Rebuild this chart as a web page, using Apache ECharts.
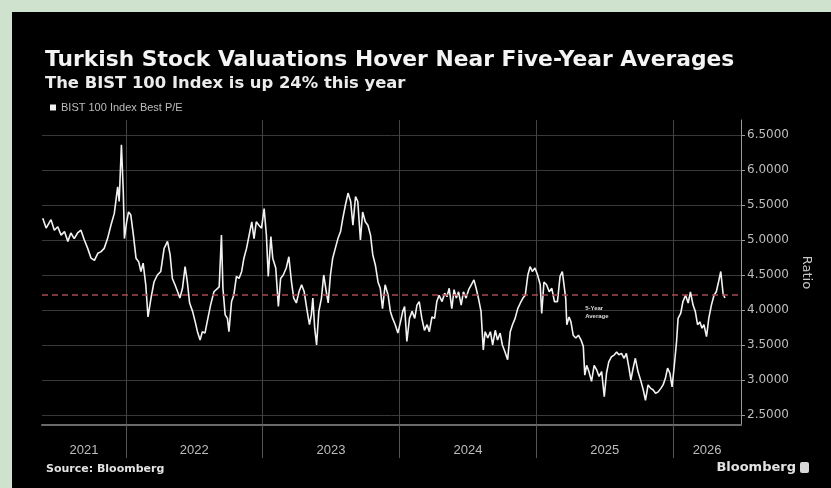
<!DOCTYPE html>
<html>
<head>
<meta charset="utf-8">
<script src="https://cdn.jsdelivr.net/npm/echarts@6/dist/echarts.min.js"></script>
<style>
  html, body { margin: 0; padding: 0; width: 831px; height: 488px; overflow: hidden; background: #cfe2cd; }
  #chart { position: absolute; left: 12px; top: 12px; width: 819px; height: 476px; background: #000; }
</style>
</head>
<body>
<div id="chart"></div>
<script>
// BIST 100 Index best P/E ratio, roughly weekly readings
const dates = [
  '2021-05-24','2021-06-02','2021-06-15','2021-06-24','2021-07-03','2021-07-12','2021-07-21','2021-07-30',
  '2021-08-07','2021-08-16','2021-08-25','2021-09-03','2021-09-12','2021-09-21','2021-09-30','2021-10-09',
  '2021-10-18','2021-10-26','2021-11-04','2021-11-13','2021-11-22','2021-12-01','2021-12-10','2021-12-14',
  '2021-12-20','2021-12-25','2021-12-28',
  '2022-01-03','2022-01-08','2022-01-14','2022-01-21','2022-01-28','2022-02-04','2022-02-10','2022-02-16',
  '2022-02-23','2022-03-01','2022-03-09','2022-03-17','2022-03-26','2022-04-04','2022-04-13','2022-04-22',
  '2022-04-29','2022-05-05','2022-05-12','2022-05-19','2022-05-25','2022-06-01','2022-06-08','2022-06-14',
  '2022-06-20','2022-06-28','2022-07-05','2022-07-11','2022-07-18','2022-07-24','2022-07-31','2022-08-07',
  '2022-08-15','2022-08-24','2022-09-07','2022-09-13','2022-09-17','2022-09-23','2022-09-29','2022-10-03',
  '2022-10-10','2022-10-16','2022-10-23','2022-10-30','2022-11-06','2022-11-12','2022-11-19','2022-11-26',
  '2022-12-03','2022-12-09','2022-12-15','2022-12-22','2022-12-29',
  '2023-01-05','2023-01-11','2023-01-16','2023-01-23','2023-01-28','2023-02-05','2023-02-12','2023-02-18',
  '2023-02-25','2023-03-05','2023-03-12','2023-03-19','2023-03-25','2023-04-01','2023-04-08','2023-04-15',
  '2023-04-22','2023-04-30','2023-05-06','2023-05-11','2023-05-15','2023-05-20','2023-05-25','2023-05-31',
  '2023-06-07','2023-06-13','2023-06-20','2023-06-25','2023-07-01','2023-07-07','2023-07-14','2023-07-21',
  '2023-07-28','2023-08-03','2023-08-10','2023-08-17','2023-08-24','2023-08-30','2023-09-06','2023-09-12',
  '2023-09-19','2023-09-25','2023-10-02','2023-10-09','2023-10-16','2023-10-22','2023-10-29','2023-11-05',
  '2023-11-11','2023-11-17','2023-11-24','2023-12-02','2023-12-08','2023-12-14','2023-12-21','2023-12-28',
  '2024-01-04','2024-01-10','2024-01-15','2024-01-21','2024-01-28','2024-02-04','2024-02-11','2024-02-17',
  '2024-02-23','2024-03-01','2024-03-08','2024-03-15','2024-03-21','2024-03-28','2024-04-04','2024-04-10',
  '2024-04-16','2024-04-24','2024-05-01','2024-05-07','2024-05-13','2024-05-20','2024-05-26','2024-06-01',
  '2024-06-07','2024-06-14','2024-06-20','2024-06-27','2024-07-04','2024-07-11','2024-07-18','2024-07-24',
  '2024-07-30','2024-08-06','2024-08-12','2024-08-17','2024-08-24','2024-08-31','2024-09-06','2024-09-13',
  '2024-09-19','2024-09-26','2024-10-02','2024-10-09','2024-10-16','2024-10-23','2024-10-29','2024-11-05',
  '2024-11-12','2024-11-19','2024-11-26','2024-12-02','2024-12-09','2024-12-15','2024-12-21','2024-12-28',
  '2025-01-04','2025-01-11','2025-01-15','2025-01-21','2025-01-28','2025-02-04','2025-02-11','2025-02-18',
  '2025-02-26','2025-03-05','2025-03-11','2025-03-16','2025-03-20','2025-03-23','2025-03-29','2025-04-03',
  '2025-04-09','2025-04-16','2025-04-23','2025-04-30','2025-05-06','2025-05-10','2025-05-15','2025-05-21',
  '2025-05-28','2025-06-04','2025-06-11','2025-06-17','2025-06-24','2025-07-01','2025-07-07','2025-07-13',
  '2025-07-20','2025-07-28','2025-08-03','2025-08-09','2025-08-16','2025-08-23','2025-08-29','2025-09-05',
  '2025-09-10','2025-09-16','2025-09-22','2025-09-29','2025-10-07','2025-10-13','2025-10-19','2025-10-26',
  '2025-11-02','2025-11-08','2025-11-15','2025-11-22','2025-11-29','2025-12-05','2025-12-11','2025-12-17',
  '2025-12-23','2025-12-29',
  '2026-01-04','2026-01-10','2026-01-14','2026-01-21','2026-01-27','2026-02-03','2026-02-10','2026-02-16',
  '2026-02-23','2026-03-01','2026-03-07','2026-03-13','2026-03-19','2026-03-24','2026-03-31','2026-04-06',
  '2026-04-13','2026-04-20','2026-04-26','2026-05-02','2026-05-08','2026-05-14','2026-05-19'
];

const peRatio = [
  5.31,5.17,5.29,5.14,5.19,5.07,5.12,4.98,
  5.10,5.02,5.10,5.14,5.00,4.88,4.74,4.71,
  4.81,4.83,4.88,5.02,5.21,5.38,5.76,5.55,
  6.36,5.69,5.02,
  5.26,5.40,5.36,5.07,4.74,4.69,4.55,4.67,
  4.36,3.90,4.17,4.40,4.50,4.55,4.88,4.98,
  4.79,4.45,4.36,4.26,4.17,4.31,4.62,4.40,
  4.10,3.98,3.83,3.69,3.57,3.69,3.67,3.86,
  4.07,4.26,4.33,5.07,4.31,3.93,3.88,3.69,
  4.12,4.21,4.48,4.45,4.55,4.74,4.88,5.07,
  5.26,5.02,5.26,5.21,5.17,
  5.45,5.07,4.48,5.05,4.74,4.60,4.05,4.45,
  4.50,4.60,4.76,4.40,4.17,4.10,4.26,4.36,
  4.26,3.98,3.79,3.93,4.17,3.74,3.50,3.98,
  4.17,4.50,4.26,4.10,4.50,4.74,4.88,5.02,
  5.12,5.31,5.50,5.67,5.55,5.21,5.62,5.55,
  5.00,5.40,5.26,5.21,5.07,4.79,4.64,4.40,
  4.31,4.02,4.36,4.21,3.98,3.88,3.79,3.67,
  3.83,3.98,4.05,3.55,3.88,3.98,3.88,4.07,
  4.12,3.88,3.71,3.79,3.69,3.90,3.88,4.12,
  4.21,4.12,4.24,4.19,4.31,4.02,4.29,4.17,
  4.26,4.07,4.26,4.17,4.29,4.36,4.43,4.31,
  4.17,3.98,3.43,3.69,3.60,3.69,3.50,3.71,
  3.57,3.67,3.50,3.40,3.29,3.69,3.79,3.88,
  4.02,4.10,4.17,4.21,4.50,4.62,4.55,4.60,
  4.50,4.36,3.95,4.40,4.36,4.26,4.31,4.12,
  4.12,4.48,4.55,4.57,4.17,3.79,3.90,3.83,
  3.64,3.60,3.64,3.57,3.48,3.07,3.21,3.12,
  2.98,3.21,3.14,3.05,3.12,2.76,3.10,3.26,
  3.33,3.36,3.40,3.36,3.38,3.31,3.38,3.17,
  3.00,3.17,3.31,3.12,2.98,2.86,2.71,2.93,
  2.88,2.86,2.81,2.83,2.88,2.93,3.02,3.17,
  3.10,2.90,
  3.21,3.55,3.88,3.95,4.12,4.21,4.10,4.26,
  4.07,3.98,3.79,3.83,3.74,3.79,3.62,3.88,
  4.07,4.21,4.26,4.40,4.55,4.24,4.17
];

const fiveYearAverage = 4.22;
const yearLabels = ['2021', '2022', '2023', '2024', '2025', '2026'];
const ratioTicks = [2.5, 3.0, 3.5, 4.0, 4.5, 5.0, 5.5, 6.0, 6.5];
const axisStart = '2021-05-22';
const axisEnd = '2026-07-01';
const averageNoteDate = '2025-05-11';

// dates are plotted as millisecond timestamps on a linear axis
const ts = s => new Date(s + 'T00:00:00').getTime();
const xMin = ts(axisStart);
const xMax = ts(axisEnd);
const yearStarts = yearLabels.slice(1).map(y => ts(y + '-01-01'));
// each year label sits in the middle of that year's visible stretch
const bounds = [xMin].concat(yearStarts, [xMax]);
const yearMids = yearLabels.map((_, i) => (bounds[i] + bounds[i + 1]) / 2);

const chart = echarts.init(document.getElementById('chart'), null, { renderer: 'canvas' });

chart.setOption({
  backgroundColor: '#000',
  animation: false,
  title: [
    {
      text: 'Turkish Stock Valuations Hover Near Five-Year Averages',
      left: 33, top: 37, padding: 0,
      textStyle: { color: '#f4f4f4', fontSize: 21.8, fontWeight: 'bold', fontFamily: 'DejaVu Sans' }
    },
    {
      text: 'The BIST 100 Index is up 24% this year',
      left: 33, top: 64, padding: 0,
      textStyle: { color: '#ececec', fontSize: 16.4, fontWeight: 'bold', fontFamily: 'DejaVu Sans' }
    },
    {
      text: 'Source: Bloomberg',
      left: 34, top: 452, padding: 0,
      textStyle: { color: '#e2e2e2', fontSize: 11, fontWeight: 'bold', fontFamily: 'DejaVu Sans' }
    },
    {
      text: 'Bloomberg',
      right: 35, top: 449, padding: 0,
      textStyle: { color: '#e2e2e2', fontSize: 13, fontWeight: 'bold', fontFamily: 'DejaVu Sans' }
    }
  ],
  graphic: [
    { type: 'rect', left: 788, top: 450, shape: { width: 9, height: 11, r: 2 }, style: { fill: '#d8d8d8' } }
  ],
  legend: {
    left: 38, top: 90, padding: 0,
    icon: 'rect', itemWidth: 6, itemHeight: 6,
    textStyle: { color: '#bdbdbd', fontSize: 11, fontFamily: 'Liberation Sans' },
    data: ['BIST 100 Index Best P/E']
  },
  grid: { left: 30, right: 90, top: 108, bottom: 63, containLabel: false },
  xAxis: {
    type: 'value',
    min: xMin,
    max: xMax,
    axisLine: { show: true, lineStyle: { color: '#6a6a6a', width: 2 } },
    axisTick: { show: true, customValues: yearStarts, length: 33, lineStyle: { color: '#555', width: 1 } },
    axisLabel: {
      customValues: yearMids,
      formatter: v => String(new Date(v).getFullYear()),
      color: '#bdbdbd', fontSize: 13, fontFamily: 'Liberation Sans', margin: 19, hideOverlap: false
    },
    splitLine: { show: true, lineStyle: { color: '#444', width: 1 } }
  },
  yAxis: {
    type: 'value',
    position: 'right',
    min: 2.357,
    max: 6.714,
    axisLine: { show: true, lineStyle: { color: '#9a9a9a', width: 1 } },
    axisTick: { show: true, customValues: ratioTicks, length: 4, lineStyle: { color: '#9a9a9a' } },
    axisLabel: {
      customValues: ratioTicks,
      formatter: v => v.toFixed(4),
      color: '#bdbdbd', fontSize: 12, fontFamily: 'DejaVu Sans', margin: 6
    },
    splitLine: { show: true, lineStyle: { color: '#383838', width: 1 } },
    name: 'Ratio',
    nameLocation: 'middle',
    nameRotate: -90,
    nameGap: 52,
    nameTextStyle: { color: '#c8c8c8', fontSize: 13, fontFamily: 'DejaVu Sans' }
  },
  series: [
    {
      type: 'line',
      name: 'BIST 100 Index Best P/E',
      data: dates.map((d, i) => [ts(d), peRatio[i]]),
      showSymbol: false,
      symbol: 'none',
      lineStyle: { color: '#f2f2f2', width: 1.6 },
      itemStyle: { color: '#f2f2f2' },
      markLine: {
        silent: true,
        symbol: 'none',
        label: { show: false },
        lineStyle: { color: '#a84a4e', type: [6, 4], width: 1.5 },
        data: [{ yAxis: fiveYearAverage }]
      },
      markPoint: {
        silent: true,
        symbol: 'rect',
        symbolSize: 0,
        data: [{
          coord: [ts(averageNoteDate), 3.97],
          label: {
            show: true, position: 'right', distance: 0,
            formatter: '5-Year\nAverage',
            color: '#dcdcdc', fontSize: 6, fontWeight: 'bold', lineHeight: 8, align: 'left'
          }
        }]
      }
    }
  ]
});
</script>
</body>
</html>
